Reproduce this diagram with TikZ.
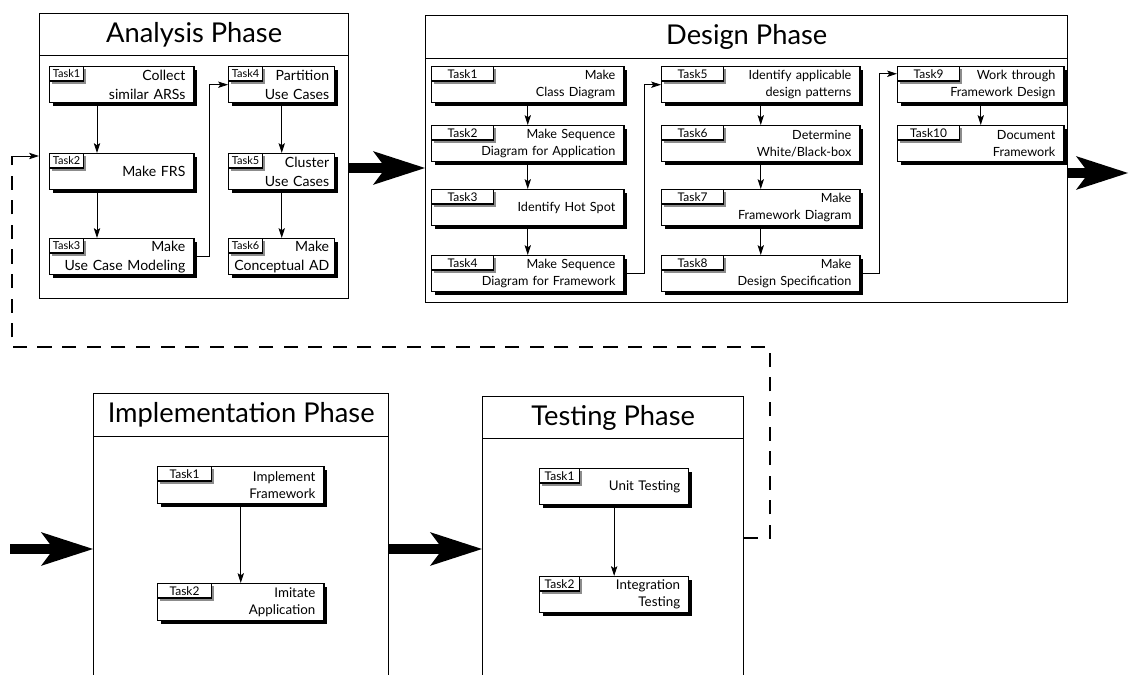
\documentclass[tikz,border=0pt]{standalone}
\usepackage{fontspec}
\setmainfont{Lato}
\usepackage{tikz}
\usetikzlibrary{arrows.meta, positioning, shadows}

\begin{document}
\begin{tikzpicture} [x=0.025cm, y=-0.025cm,
        phasebox/.style={draw, line width=0.9pt, anchor=north west, inner sep=0pt},
        titlebox/.style={draw, line width=0.9pt, anchor=north west, inner sep=0pt, font=\fontsize{19.4}{21}\selectfont},
        taskbox/.style={draw, fill=white, line width=1pt, anchor=north west, inner xsep=6pt, inner ysep=1pt,
            minimum height=0.9cm, text width=#1, align=right, font=\fontsize{9.5}{12}\selectfont,
            drop shadow={shadow xshift=2.2pt, shadow yshift=-2.2pt, fill=black, opacity=1}},
        anatask/.style={taskbox=#1, font=\fontsize{10}{13.5}\selectfont},
        destask/.style={taskbox=#1, font=\fontsize{9}{12}\selectfont},
        tabbox/.style={draw, fill=white, line width=0.8pt, anchor=north west, inner sep=0pt,
            minimum width=#1, minimum height=0.36cm, font=\fontsize{8.5}{9}\selectfont,
            drop shadow={shadow xshift=2pt, shadow yshift=-2pt, fill=black!45, opacity=1}},
        flow/.style={-{Stealth[length=7pt, width=4.5pt, inset=1.5pt]}, line width=0.6pt},
        bigarrow/.style={-{Stealth[length=37pt, width=24pt, inset=9pt, line width=0pt]}, line width=7pt},
        feedback/.style={line width=1.4pt, dash pattern=on 10pt off 7.5pt}]
        \useasboundingbox (0,0) rectangle (1130,675);
        \clip (0,0) rectangle (1130,675);

        % Analysis Phase
        \node (ana) [phasebox, minimum width=7.725cm, minimum height=7.125cm] at (39,13) {};
        \node (anatitle) [titlebox, minimum width=7.725cm, minimum height=1.05cm] at (ana.north west) {Analysis Phase};
        \node (a1) [anatask=3.18cm] at (49,66) {Collect\\similar ARSs};
        \node (a1t) [tabbox=0.85cm, font=\fontsize{7.8}{9}\selectfont] at (a1.north west) {Task1};
        \node (a2) [anatask=3.18cm] at (49,153) {Make FRS};
        \node (a2t) [tabbox=0.85cm, font=\fontsize{7.8}{9}\selectfont] at (a2.north west) {Task2};
        \node (a3) [anatask=3.18cm] at (49,238) {Make\\Use Case Modeling};
        \node (a3t) [tabbox=0.85cm, font=\fontsize{7.8}{9}\selectfont] at (a3.north west) {Task3};
        \node (a4) [anatask=2.37cm, inner xsep=4pt] at (228,66) {Partition\\Use Cases};
        \node (a4t) [tabbox=0.85cm, font=\fontsize{7.8}{9}\selectfont] at (a4.north west) {Task4};
        \node (a5) [anatask=2.37cm, inner xsep=4pt] at (228,153) {Cluster\\Use Cases};
        \node (a5t) [tabbox=0.85cm, font=\fontsize{7.8}{9}\selectfont] at (a5.north west) {Task5};
        \node (a6) [anatask=2.37cm, inner xsep=4pt] at (228,238) {Make\\Conceptual~AD};
        \node (a6t) [tabbox=0.85cm, font=\fontsize{7.8}{9}\selectfont] at (a6.north west) {Task6};

        \path [flow] (a1.south -| 97,0) edge (a2.north -| 97,0);
        \path [flow] (a2.south -| 97,0) edge (a3.north -| 97,0);
        \draw [flow] (a3.east) -- ++(15,0) |- (a4.west);
        \path [flow] (a4.south) edge (a5.north);
        \path [flow] (a5.south) edge (a6.north);

        % Design Phase
        \node (des) [phasebox, minimum width=16.05cm, minimum height=7.175cm] at (425,15) {};
        \node (destitle) [titlebox, minimum width=16.05cm, minimum height=1.075cm] at (des.north west) {Design Phase};
        \node (d1) [destask=4.38cm] at (431,66) {Make\\Class Diagram};
        \node (d1t) [tabbox=1.55cm] at (d1.north west) {Task1};
        \node (d2) [destask=4.38cm] at (431,125) {Make Sequence\\Diagram for Application};
        \node (d2t) [tabbox=1.55cm] at (d2.north west) {Task2};
        \node (d3) [destask=4.38cm] at (431,189) {Identify Hot Spot};
        \node (d3t) [tabbox=1.55cm] at (d3.north west) {Task3};
        \node (d4) [destask=4.38cm] at (431,255) {Make Sequence\\Diagram for Framework};
        \node (d4t) [tabbox=1.55cm] at (d4.north west) {Task4};
        \node (d5) [destask=4.53cm] at (661,66) {Identify applicable\\design patterns};
        \node (d5t) [tabbox=1.55cm] at (d5.north west) {Task5};
        \node (d6) [destask=4.53cm] at (661,125) {Determine\\White/Black-box};
        \node (d6t) [tabbox=1.55cm] at (d6.north west) {Task6};
        \node (d7) [destask=4.53cm] at (661,189) {Make\\Framework Diagram};
        \node (d7t) [tabbox=1.55cm] at (d7.north west) {Task7};
        \node (d8) [destask=4.53cm] at (661,255) {Make\\Design Specification};
        \node (d8t) [tabbox=1.55cm] at (d8.north west) {Task8};
        \node (d9) [destask=3.73cm] at (897,66) {Work through\\Framework Design};
        \node (d9t) [tabbox=1.55cm] at (d9.north west) {Task9};
        \node (d10) [destask=3.73cm] at (897,125) {Document\\Framework};
        \node (d10t) [tabbox=1.55cm] at (d10.north west) {Task10};

        \path [flow] (d1.south) edge (d2.north);
        \path [flow] (d2.south) edge (d3.north);
        \path [flow] (d3.south) edge (d4.north);
        \draw [flow] (d4.east) -- ++(20,0) |- (d5.west);
        \path [flow] (d5.south) edge (d6.north);
        \path [flow] (d6.south) edge (d7.north);
        \path [flow] (d7.south) edge (d8.north);
        \draw [flow] (d8.east) -- ++(19,0) |- (d9t.west);
        \path [flow] (d9.south) edge (d10.north);

        % Implementation Phase
        \node (imp) [phasebox, minimum width=7.375cm, minimum height=7.675cm] at (93,393) {};
        \node (imptitle) [titlebox, minimum width=7.375cm, minimum height=1.075cm] at (imp.north west) {Implementation Phase};
        \node (i1) [taskbox=3.73cm, minimum height=0.925cm] at (157,466) {Implement\\Framework};
        \node (i1t) [tabbox=1.35cm] at (i1.north west) {Task1};
        \node (i2) [taskbox=3.73cm, minimum height=0.925cm] at (157,583) {Imitate\\Application};
        \node (i2t) [tabbox=1.35cm] at (i2.north west) {Task2};
        \path [flow] (i1.south) edge (i2.north);

        % Testing Phase
        \node (tst) [phasebox, minimum width=6.525cm, minimum height=7.6cm] at (482,396) {};
        \node (tsttitle) [titlebox, minimum width=6.525cm, minimum height=1.05cm] at (tst.north west) {Testing Phase};
        \node (t1) [taskbox=3.3cm] at (539,468) {Unit Testing};
        \node (t1t) [tabbox=1cm] at (t1.north west) {Task1};
        \node (t2) [taskbox=3.3cm] at (539,576) {Integration\\Testing};
        \node (t2t) [tabbox=1cm] at (t2.north west) {Task2};
        \path [flow] (t1.south) edge (t2.north);

        % phase to phase
        \coordinate (exit) at (1128,173);
        \coordinate (entry) at (10,549);
        \draw [bigarrow] (ana.east |- 0,168) -- (des.west |- 0,168);
        \draw [bigarrow] (des.east |- exit) -- (exit);
        \draw [bigarrow] (entry) -- (imp.west |- entry);
        \draw [bigarrow] (imp.east |- entry) -- (tst.west |- entry);

        % back to analysis
        \coordinate (fbcorner) at (12,156);
        \draw [feedback] (tst.east |- 0,538) -| (770,347) -| (fbcorner);
        \draw [flow] (fbcorner) -- (ana.west |- fbcorner);
\end{tikzpicture}
\end{document}
